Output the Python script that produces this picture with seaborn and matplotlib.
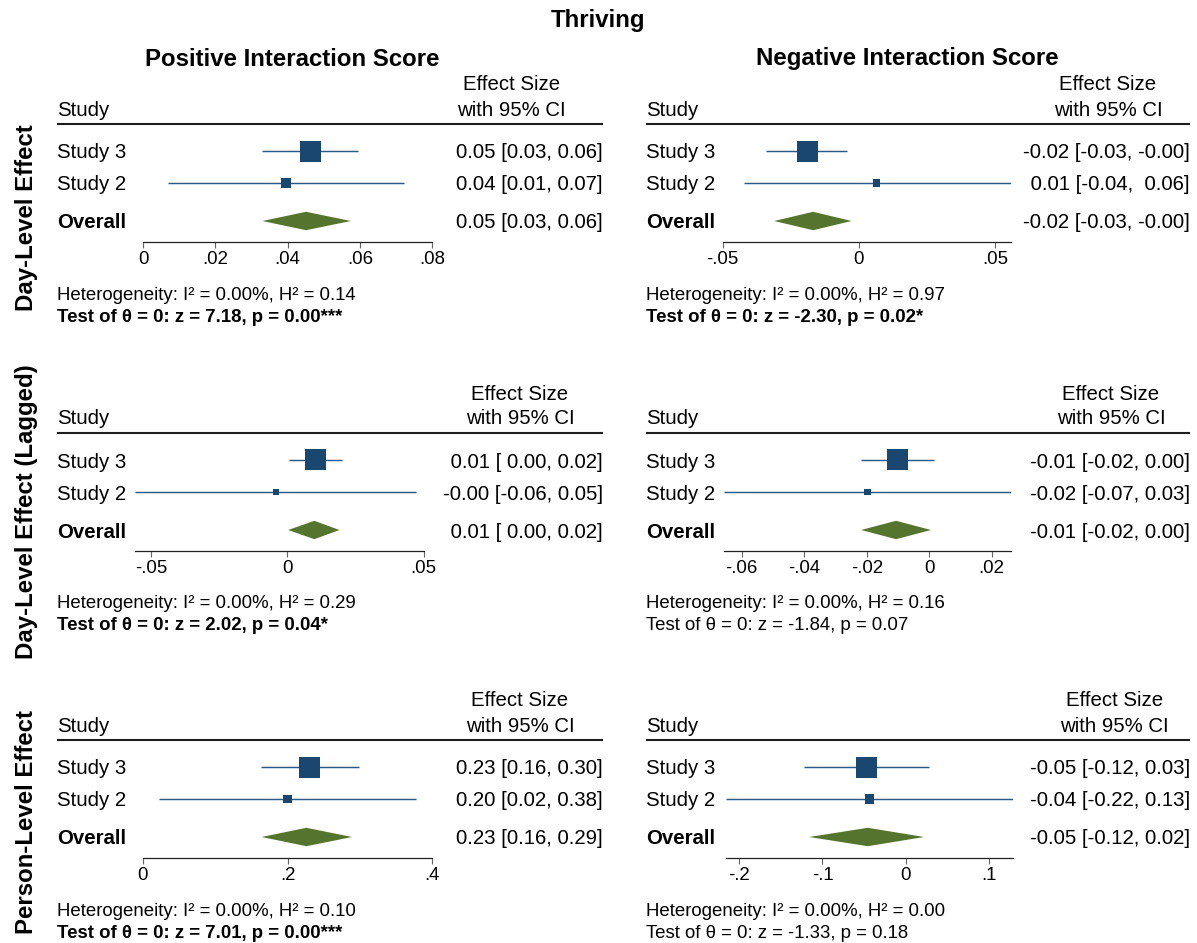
import numpy as np
import pandas as pd
import matplotlib
matplotlib.use("Agg")
import matplotlib.pyplot as plt
import seaborn as sns

W, H = 1197, 943

# ---- text content -------------------------------------------------------
suptitle = "Thriving"
col_titles = ["Positive Interaction Score", "Negative Interaction Score"]
row_titles = ["Day-Level Effect", "Day-Level Effect (Lagged)", "Person-Level Effect"]
study_labels = ["Study 3", "Study 2"]

# ---- study estimates: effect, 95% CI bounds, weight (%) ----------------------
day_pos_est = [0.0462, 0.0396]
day_pos_lo = [0.0330, 0.0069]
day_pos_hi = [0.0596, 0.0722]
day_pos_weight = [81.5, 18.5]
day_pos_overall = [0.0451, 0.0330, 0.0575]
day_pos_ticks = [0, 0.02, 0.04, 0.06, 0.08]
day_pos_ticklabels = ["0", ".02", ".04", ".06", ".08"]

day_neg_est = [-0.0189, 0.0065]
day_neg_lo = [-0.0340, -0.0423]
day_neg_hi = [-0.0043, 0.0557]
day_neg_weight = [88.2, 11.8]
day_neg_overall = [-0.0168, -0.0311, -0.0027]
day_neg_ticks = [-0.05, 0, 0.05]
day_neg_ticklabels = ["-.05", "0", ".05"]

lag_pos_est = [0.0103, -0.0041]
lag_pos_lo = [0.0007, -0.0559]
lag_pos_hi = [0.0200, 0.0473]
lag_pos_weight = [92.7, 7.3]
lag_pos_overall = [0.0099, 0.0003, 0.0191]
lag_pos_ticks = [-0.05, 0, 0.05]
lag_pos_ticklabels = ["-.05", "0", ".05"]

lag_neg_est = [-0.0101, -0.0197]
lag_neg_lo = [-0.0217, -0.0656]
lag_neg_hi = [0.0016, 0.0262]
lag_neg_weight = [91.5, 8.5]
lag_neg_overall = [-0.0106, -0.0218, 0.0006]
lag_neg_ticks = [-0.06, -0.04, -0.02, 0, 0.02]
lag_neg_ticklabels = ["-.06", "-.04", "-.02", "0", ".02"]

person_pos_est = [0.2300, 0.1997]
person_pos_lo = [0.1635, 0.0220]
person_pos_hi = [0.2980, 0.3770]
person_pos_weight = [84.7, 15.3]
person_pos_overall = [0.2260, 0.1640, 0.2890]
person_pos_ticks = [0, 0.2, 0.4]
person_pos_ticklabels = ["0", ".2", ".4"]

person_neg_est = [-0.0466, -0.0438]
person_neg_lo = [-0.1220, -0.2160]
person_neg_hi = [0.0280, 0.1280]
person_neg_weight = [83.5, 16.5]
person_neg_overall = [-0.0456, -0.1160, 0.0220]
person_neg_ticks = [-0.2, -0.1, 0, 0.1]
person_neg_ticklabels = ["-.2", "-.1", "0", ".1"]

# ---- heterogeneity and overall test -----------------------------------------
i2_values = [0.00, 0.00, 0.00, 0.00, 0.00, 0.00]
h2_values = [0.14, 0.97, 0.29, 0.16, 0.10, 0.00]
z_values = [7.18, -2.30, 2.02, -1.84, 7.01, -1.33]
p_values = [0.00, 0.02, 0.04, 0.07, 0.00, 0.18]

panels = [
    (day_pos_est, day_pos_lo, day_pos_hi, day_pos_weight, day_pos_overall, day_pos_ticks, day_pos_ticklabels),
    (day_neg_est, day_neg_lo, day_neg_hi, day_neg_weight, day_neg_overall, day_neg_ticks, day_neg_ticklabels),
    (lag_pos_est, lag_pos_lo, lag_pos_hi, lag_pos_weight, lag_pos_overall, lag_pos_ticks, lag_pos_ticklabels),
    (lag_neg_est, lag_neg_lo, lag_neg_hi, lag_neg_weight, lag_neg_overall, lag_neg_ticks, lag_neg_ticklabels),
    (person_pos_est, person_pos_lo, person_pos_hi, person_pos_weight, person_pos_overall, person_pos_ticks, person_pos_ticklabels),
    (person_neg_est, person_neg_lo, person_neg_hi, person_neg_weight, person_neg_overall, person_neg_ticks, person_neg_ticklabels),
]

# ---- layout (pixels) ----------------------------------------------------------
row_top = [124, 433, 740]          # header rule of each row of panels
col_text_left = [57, 646]
col_text_right = [603, 1190]
plot_span = [(143.3, 432.0), (722.7, 1010.7),
             (135.1, 423.6), (724.3, 1011.0),
             (143.0, 432.3), (725.8, 1012.5)]
header_center = [511.5, 1108, 520, 1111, 520, 1114.5]
row_title_center = [218, 512, 822]
col_title_center = [292, 907]
DY = 2  # baseline nudge for centred text

NAVY = "#1a476f"
CI_COLOR = "#2b5a86"
GREEN = "#55752f"
BODY = 14.7
SMALL = 13.4
HEAD = 17.3

sns.set_theme(style="white")
plt.rcParams["font.family"] = ["Liberation Sans", "DejaVu Sans"]
plt.rcParams["text.color"] = "black"
plt.rcParams["axes.labelcolor"] = "black"
plt.rcParams["xtick.color"] = "black"

fig = plt.figure(figsize=(W / 100, H / 100), dpi=100)
fig.patch.set_facecolor("white")
canvas = fig.add_axes([0, 0, 1, 1])
canvas.set_xlim(0, W)
canvas.set_ylim(H, 0)
canvas.axis("off")

canvas.text(598, 18 + DY, suptitle, ha="center", va="center", fontsize=HEAD, weight="bold")
for c, t in enumerate(col_titles):
    canvas.text(col_title_center[c], 57 + DY, t, ha="center", va="center", fontsize=HEAD, weight="bold")
for r, t in enumerate(row_titles):
    canvas.text(27, row_title_center[r], t, ha="center", va="center", rotation=90,
                fontsize=HEAD, weight="bold")


def fmt_col(vals):
    s = [f"{v:.2f}" for v in vals]
    w = max(len(x) for x in s)
    return [x.rjust(w) for x in s]


def stars(p):
    if p < 0.001:
        return "***"
    if p < 0.01:
        return "**"
    if p < 0.05:
        return "*"
    return ""


Y_S3, Y_S2, Y_OV, Y_AX = 27, 59, 97, 117.5
MAX_SIDE = 21.0

for k, (est, lo, hi, wt, ov, ticks, tlabels) in enumerate(panels):
    r, c = divmod(k, 2)
    y0 = row_top[r]
    xl, xr = col_text_left[c], col_text_right[c]

    # header block
    canvas.text(xl, y0 - 16 + DY, "Study", ha="left", va="center", fontsize=BODY)
    canvas.text(header_center[k], y0 - 41 + DY, "Effect Size", ha="center", va="center", fontsize=BODY)
    canvas.text(header_center[k], y0 - 16 + DY, "with 95% CI", ha="center", va="center", fontsize=BODY)
    canvas.plot([xl, xr], [y0, y0], color="#1e1e1e", lw=1.5, solid_capstyle="butt")

    # study labels and value column
    ys = [Y_S3, Y_S2]
    for lab, yy in zip(study_labels, ys):
        canvas.text(xl, y0 + yy + DY, lab, ha="left", va="center", fontsize=BODY)
    canvas.text(xl, y0 + Y_OV + DY, "Overall", ha="left", va="center", fontsize=BODY, weight="bold")

    e_col = fmt_col(est + [ov[0]])
    l_col = fmt_col(lo + [ov[1]])
    h_col = fmt_col(hi + [ov[2]])
    for i, yy in enumerate(ys + [Y_OV]):
        canvas.text(xr, y0 + yy + DY, f"{e_col[i]} [{l_col[i]}, {h_col[i]}]",
                    ha="right", va="center", fontsize=BODY)

    # heterogeneity and test of overall effect
    canvas.text(xl, y0 + 169 + DY,
                f"Heterogeneity: I\u00b2 = {i2_values[k]:.2f}%, H\u00b2 = {h2_values[k]:.2f}",
                ha="left", va="center", fontsize=SMALL)
    p = p_values[k]
    canvas.text(xl, y0 + 191 + DY,
                f"Test of \u03b8 = 0: z = {z_values[k]:.2f}, p = {p:.2f}{stars(p)}",
                ha="left", va="center", fontsize=SMALL,
                weight="bold" if p < 0.05 else "normal")

    # forest plot region
    L, R = plot_span[k]
    ax = fig.add_axes([L / W, 1 - (y0 + Y_AX) / H, (R - L) / W, Y_AX / H])
    ax.patch.set_alpha(0)
    x_lo = min(ticks[0], min(lo))
    x_hi = max(ticks[-1], max(hi))

    ax.hlines(ys, lo, hi, color=CI_COLOR, lw=1.05, zorder=2)
    sides = MAX_SIDE * np.sqrt(np.array(wt) / max(wt))
    df = pd.DataFrame({"effect": est, "row": ys})
    sns.scatterplot(data=df, x="effect", y="row", s=(sides * 0.72) ** 2, marker="s",
                    color=NAVY, linewidth=0, ax=ax, zorder=3, legend=False)
    half = 9.2
    ax.fill([ov[1], ov[0], ov[2], ov[0]], [Y_OV, Y_OV - half, Y_OV, Y_OV + half],
            color=GREEN, lw=0, zorder=3)

    ax.set_xlim(x_lo, x_hi)
    ax.set_ylim(Y_AX, 0)
    ax.set_xlabel("")
    ax.set_ylabel("")
    ax.set_yticks([])
    for side in ["top", "left", "right"]:
        ax.spines[side].set_visible(False)
    ax.spines["bottom"].set_color("#222222")
    ax.spines["bottom"].set_linewidth(0.9)
    ax.set_xticks(ticks)
    ax.set_xticklabels(tlabels, fontsize=SMALL)
    ax.tick_params(axis="x", bottom=True, direction="out", length=4.6, width=0.8,
                   color="#666666", pad=2.5, labelcolor="black")

fig.savefig("out.png", dpi=100, facecolor="white")
